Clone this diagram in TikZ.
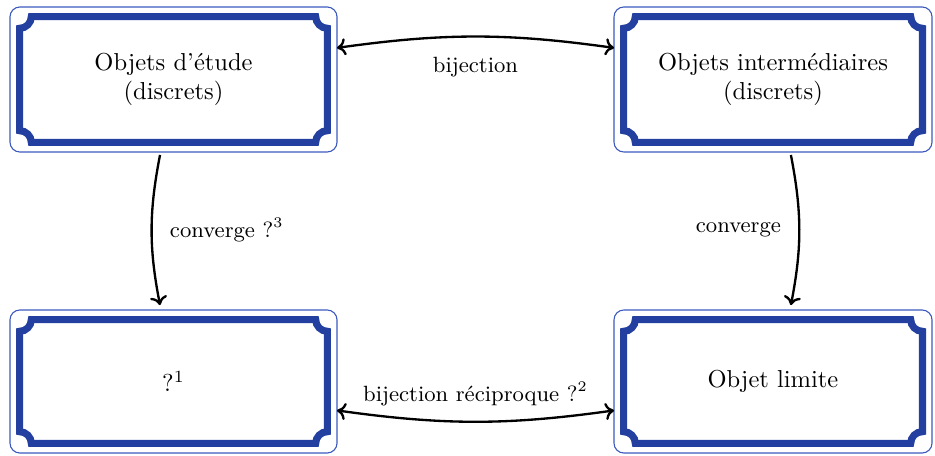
\documentclass[tikz,border=0pt]{standalone}
\usetikzlibrary{arrows.meta}
\definecolor{framedark}{RGB}{35,64,160}
\definecolor{framethin}{RGB}{60,90,190}
\def\fd{3.9pt}
\def\fr{4.8pt}
\newcommand\ornframe[1]{%
  \draw[thickframe]
    ([xshift=\fd+\fr,yshift=-\fd]#1.north west) --
    ([xshift=-\fd-\fr,yshift=-\fd]#1.north east) arc[start angle=180,end angle=270,radius=\fr] --
    ([xshift=-\fd,yshift=\fd+\fr]#1.south east) arc[start angle=90,end angle=180,radius=\fr] --
    ([xshift=\fd+\fr,yshift=\fd]#1.south west) arc[start angle=0,end angle=90,radius=\fr] --
    ([xshift=\fd,yshift=-\fd-\fr]#1.north west) arc[start angle=270,end angle=360,radius=\fr] -- cycle;}
\tikzset{
  boxnode/.style={draw=framethin, line width=0.45pt, rounded corners=4pt, outer sep=0pt,
    inner sep=0pt, align=center, font=\normalsize, minimum height=#1*0.408pt},
  thickframe/.style={draw=framedark, line width=2.9pt, line join=miter},
  conn/.style={line width=0.95pt, {Computer Modern Rightarrow[length=3.6pt,width=7pt]}-{Computer Modern Rightarrow[length=3.6pt,width=7pt]}},
  connd/.style={line width=0.95pt, -{Computer Modern Rightarrow[length=3.6pt,width=7pt]}},
  lab/.style={font=\small, inner sep=1pt}
}
\begin{document}
\begin{tikzpicture}[x=0.408pt,y=0.408pt]
\useasboundingbox (0,0) rectangle (935,455);
\node[boxnode=145, minimum width=327*0.408pt] (tl) at (173.5,375.5) {Objets d'étude\\(discrets)};
\node[boxnode=145, minimum width=318*0.408pt] (tr) at (773,375.5) {Objets intermédiaires\\(discrets)};
\node[boxnode=143, minimum width=327*0.408pt] (bl) at (173.5,73.5) {?$^1$};
\node[boxnode=143, minimum width=318*0.408pt] (br) at (773,73.5) {Objet limite};
\ornframe{tl}
\ornframe{tr}
\ornframe{bl}
\ornframe{br}
\draw[conn] ([yshift=12.9pt]tl.east) to[bend left=8]
  node[lab, midway, below=7pt] (lb1) {bijection} ([yshift=12.9pt]tr.west);
\draw[conn] ([yshift=-11.8pt]bl.east) to[bend right=8]
  node[lab, midway, above=5pt] (lb2) {bijection réciproque ?$^2$} ([yshift=-11.8pt]br.west);
\draw[connd] ([xshift=-5.5pt,yshift=-1.2pt]tl.south) to[bend right=11]
  node[lab, midway, right=6pt] (lb3) {converge ?$^3$} ([xshift=-5.5pt,yshift=2pt]bl.north);
\draw[connd] ([xshift=7.3pt,yshift=-1.2pt]tr.south) to[bend left=11]
  node[lab, midway, left=6pt] (lb4) {converge} ([xshift=7.3pt,yshift=2pt]br.north);
\end{tikzpicture}
\end{document}
